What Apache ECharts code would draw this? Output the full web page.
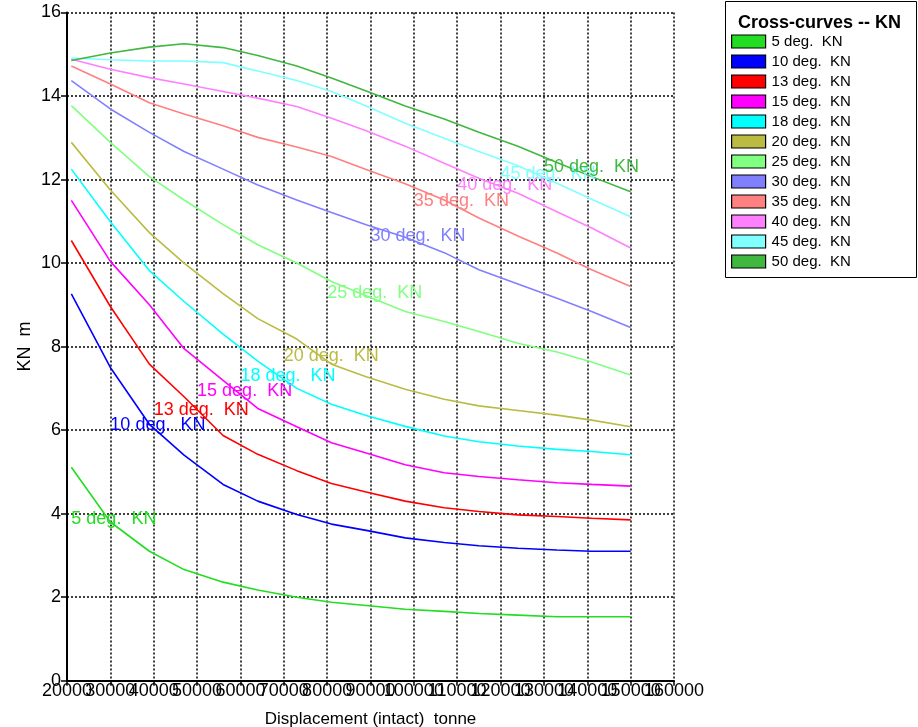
<!DOCTYPE html>
<html>
<head>
<meta charset="utf-8">
<script src="https://cdn.jsdelivr.net/npm/echarts@6/dist/echarts.min.js"></script>
<style>
  html, body { margin: 0; padding: 0; background: #fff; }
  #chart { width: 918px; height: 727px; }
</style>
</head>
<body>
<div id="chart"></div>
<script>
// displacement points (tonne)
const displacement = [21000, 30000, 39000, 47000, 56000, 64000, 73000, 81000, 89000, 98000, 107000, 115000, 124000, 133000, 141000, 150000];

// KN values (m) per heel angle
const kn5  = [5.11, 3.80, 3.10, 2.66, 2.36, 2.17, 2.00, 1.88, 1.80, 1.71, 1.66, 1.61, 1.57, 1.53, 1.53, 1.53];
const kn10 = [9.26, 7.50, 6.14, 5.40, 4.70, 4.30, 3.98, 3.75, 3.60, 3.42, 3.31, 3.23, 3.17, 3.13, 3.10, 3.10];
const kn13 = [10.54, 8.96, 7.58, 6.80, 5.87, 5.42, 5.03, 4.72, 4.52, 4.30, 4.14, 4.05, 3.97, 3.93, 3.89, 3.85];
const kn15 = [11.50, 10.04, 9.00, 7.95, 7.19, 6.52, 6.08, 5.70, 5.45, 5.17, 4.98, 4.89, 4.81, 4.74, 4.70, 4.66];
const kn18 = [12.25, 10.99, 9.82, 9.08, 8.30, 7.65, 7.00, 6.62, 6.35, 6.09, 5.86, 5.72, 5.62, 5.54, 5.49, 5.41];
const kn20 = [12.89, 11.75, 10.73, 10.00, 9.27, 8.67, 8.18, 7.58, 7.28, 6.98, 6.74, 6.58, 6.47, 6.36, 6.24, 6.08];
const kn25 = [13.77, 12.89, 12.07, 11.51, 10.92, 10.44, 10.00, 9.56, 9.22, 8.84, 8.60, 8.36, 8.08, 7.87, 7.63, 7.32];
const kn30 = [14.37, 13.69, 13.13, 12.67, 12.25, 11.87, 11.51, 11.21, 10.92, 10.62, 10.25, 9.84, 9.50, 9.16, 8.84, 8.46];
const kn35 = [14.72, 14.29, 13.84, 13.57, 13.29, 13.01, 12.78, 12.55, 12.24, 11.90, 11.51, 11.08, 10.65, 10.24, 9.84, 9.44];
const kn40 = [14.88, 14.64, 14.44, 14.29, 14.11, 13.95, 13.75, 13.47, 13.17, 12.80, 12.39, 12.03, 11.67, 11.23, 10.84, 10.36];
const kn45 = [14.91, 14.87, 14.84, 14.84, 14.80, 14.60, 14.37, 14.11, 13.76, 13.35, 12.99, 12.67, 12.33, 11.91, 11.53, 11.11];
const kn50 = [14.85, 15.03, 15.17, 15.25, 15.16, 14.97, 14.72, 14.43, 14.12, 13.76, 13.45, 13.13, 12.80, 12.41, 12.07, 11.71];

const seriesNames = ['5 deg.  KN', '10 deg.  KN', '13 deg.  KN', '15 deg.  KN', '18 deg.  KN', '20 deg.  KN',
  '25 deg.  KN', '30 deg.  KN', '35 deg.  KN', '40 deg.  KN', '45 deg.  KN', '50 deg.  KN'];
const seriesValues = [kn5, kn10, kn13, kn15, kn18, kn20, kn25, kn30, kn35, kn40, kn45, kn50];
const colors = ['#22dd22', '#0000ff', '#ff0000', '#ff00ff', '#00ffff', '#bbbb44',
  '#80ff80', '#8080ff', '#ff8080', '#ff80ff', '#80ffff', '#40b840'];

// where the in-plot curve labels sit (left edge, vertical middle)
const labelX = [21000, 30000, 40000, 50000, 60000, 70000, 80000, 90000, 100000, 110000, 120000, 130000];
const labelY = [4.02, 6.26, 6.63, 7.07, 7.44, 7.92, 9.42, 10.78, 11.62, 12.01, 12.27, 12.45];

const FONT = "'Liberation Sans', Arial, sans-serif";

const chart = echarts.init(document.getElementById('chart'));

const series = seriesNames.map((name, i) => ({
  name: name,
  type: 'line',
  data: displacement.map((x, j) => [x, seriesValues[i][j]]),
  showSymbol: false,
  symbol: 'none',
  color: colors[i],
  lineStyle: { color: colors[i], width: 1.6 },
  itemStyle: { color: colors[i] },
  z: 3,
  animation: false,
  markPoint: {
    symbol: 'circle',
    symbolSize: 0,
    animation: false,
    data: [{ coord: [labelX[i], labelY[i]] }],
    label: {
      show: true,
      position: 'right',
      distance: 0,
      offset: [0, 6],
      formatter: name,
      color: colors[i],
      fontFamily: FONT,
      fontSize: 18
    }
  }
}));

// the tick labels overlap, so even and odd ticks are split over two stacked axes
const xLabelBase = {
  color: '#000', fontFamily: FONT, fontSize: 18, margin: 1,
  showMinLabel: true, showMaxLabel: true
};

const option = {
  animation: false,
  backgroundColor: '#fff',
  grid: { left: 67, right: 244, top: 12.5, bottom: 46.3, containLabel: false, outerBoundsMode: 'none' },
  title: {
    text: 'Cross-curves -- KN',
    left: 733,
    top: 9,
    textStyle: { fontFamily: FONT, fontSize: 18, fontWeight: 'bold', color: '#000' }
  },
  legend: {
    orient: 'vertical',
    left: 731,
    top: 34,
    padding: 0,
    icon: 'rect',
    itemWidth: 34,
    itemHeight: 13,
    itemGap: 5,
    itemStyle: { borderColor: '#000', borderWidth: 1.2 },
    textStyle: { fontFamily: FONT, fontSize: 15, color: '#000', padding: [0, 0, 0, 1] },
    data: seriesNames
  },
  graphic: [{
    type: 'rect',
    shape: { x: 725.5, y: 1.5, width: 191, height: 276 },
    style: { fill: 'none', stroke: '#000', lineWidth: 1 },
    z: -1
  }],
  xAxis: [{
    type: 'value',
    min: 20000,
    max: 160000,
    interval: 10000,
    name: 'Displacement (intact)  tonne',
    nameLocation: 'middle',
    nameGap: 30,
    nameMoveOverlap: false,
    nameTextStyle: { fontFamily: FONT, fontSize: 17, color: '#000' },
    axisLine: { show: true, onZero: false, lineStyle: { color: '#000', width: 2 } },
    axisTick: { show: true, inside: false, length: 5, lineStyle: { color: '#000', width: 1.5 } },
    axisLabel: Object.assign({}, xLabelBase, {
      formatter: (v) => ((v / 10000) % 2 === 0 ? String(v) : '')
    }),
    splitLine: { show: true, lineStyle: { color: '#000', type: [2, 2], width: 1.5 } }
  }, {
    type: 'value',
    position: 'bottom',
    gridIndex: 0,
    min: 20000,
    max: 160000,
    interval: 10000,
    axisLine: { show: false, onZero: false },
    axisTick: { show: false },
    splitLine: { show: false },
    axisLabel: Object.assign({}, xLabelBase, {
      formatter: (v) => ((v / 10000) % 2 === 1 ? String(v) : '')
    })
  }],
  yAxis: {
    type: 'value',
    min: 0,
    max: 16,
    interval: 2,
    name: 'KN  m',
    nameLocation: 'middle',
    nameGap: 33,
    nameMoveOverlap: false,
    nameRotate: 90,
    nameTextStyle: { fontFamily: FONT, fontSize: 18, color: '#000' },
    axisLine: { show: true, onZero: false, lineStyle: { color: '#000', width: 2 } },
    axisTick: { show: true, inside: false, length: 6, lineStyle: { color: '#000', width: 1.5 } },
    axisLabel: { color: '#000', fontFamily: FONT, fontSize: 18, margin: 6, padding: [9, 0, 0, 0] },
    splitLine: { show: true, lineStyle: { color: '#000', type: [2, 2], width: 1.5 } }
  },
  series: series
};

chart.setOption(option);
</script>
</body>
</html>
